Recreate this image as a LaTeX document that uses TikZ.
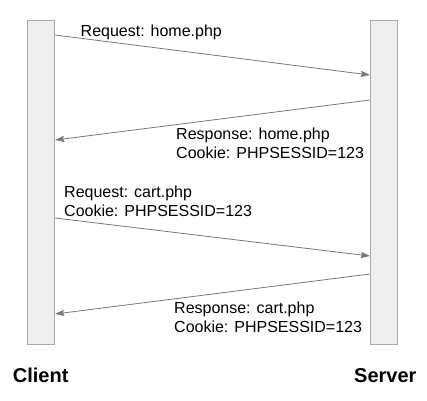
\documentclass[tikz,border=0pt]{standalone}
\usepackage{fontspec}
\setmainfont{Liberation Sans}
\usetikzlibrary{arrows.meta,calc}
\definecolor{barfill}{HTML}{EEEEEE}
\definecolor{bardraw}{HTML}{AAAAAA}
\definecolor{msgline}{HTML}{777777}
\begin{document}
\begin{tikzpicture}[x=1pt,y=-1pt,
  lifeline/.style={draw=bardraw,fill=barfill,line width=1.2pt,minimum width=27pt,minimum height=324pt,inner sep=0pt},
  msg/.style={draw=msgline,line width=0.8pt,-{Stealth[length=9pt,width=6pt,inset=1pt]}},
  lbl/.style={anchor=base west,inner sep=0pt,align=left,font=\fontsize{16}{19.5}\selectfont},
  actor/.style={inner sep=0pt,font=\fontsize{20}{24}\selectfont\bfseries}]
\useasboundingbox (0,0) rectangle (427,400);
\fill[white] (0,0) rectangle (427,400);
\node[lifeline] (client) at (41,182.5) {};
\node[lifeline] (server) at (384,182.5) {};
\coordinate (m1s) at (client.east |- 0,35);
\coordinate (m1e) at (server.west |- 0,75);
\coordinate (m2s) at (server.west |- 0,100);
\coordinate (m2e) at (client.east |- 0,140);
\coordinate (m3s) at (client.east |- 0,218);
\coordinate (m3e) at (server.west |- 0,256);
\coordinate (m4s) at (server.west |- 0,274);
\coordinate (m4e) at (client.east |- 0,314);
\draw[msg] (m1s) -- (m1e);
\draw[msg] (m2s) -- (m2e);
\draw[msg] (m3s) -- (m3e);
\draw[msg] (m4s) -- (m4e);
\node[lbl] (l1) at (80.5,36) {Request: home.php};
\node[lbl] (l2) at (176,158.5) {Response: home.php\\Cookie: PHPSESSID=123};
\node[lbl] (l3) at (64,216.5) {Request: cart.php\\Cookie: PHPSESSID=123};
\node[lbl] (l4) at (174,332.5) {Response: cart.php\\Cookie: PHPSESSID=123};
\node[actor,anchor=base west] (cl) at (12.7,382.7) {Client};
\node[actor,anchor=base east] (sv) at (416.7,382.7) {Server};
\end{tikzpicture}
\end{document}
